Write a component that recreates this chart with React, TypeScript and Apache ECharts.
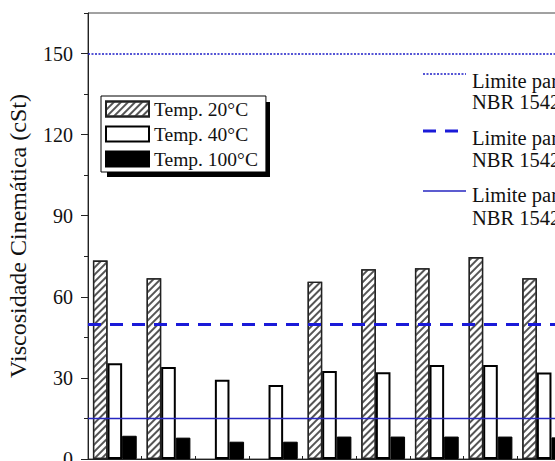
import React, { useEffect, useRef } from "react";
import * as echarts from "echarts";

const categories = ["A1", "A2", "A3", "A4", "A5", "A6", "A7", "A8", "A9"];
const temp20 = [73.4, 66.9, null, null, 65.6, 70.2, 70.6, 74.7, 66.9];
const temp40 = [35.4, 34.0, 29.3, 27.4, 32.6, 32.1, 34.8, 34.8, 32.0];
const temp100 = [8.6, 7.9, 6.4, 6.4, 8.3, 8.3, 8.3, 8.3, 8.0];
const seriesNames = ["Temp. 20°C", "Temp. 40°C", "Temp. 100°C"];
const majorTicks = [0, 30, 60, 90, 120, 150];
const minorTicks = [15, 45, 75, 105, 135, 165];
const limits = [150, 50, 15];
const limitTexts = [
  ["Limite para 20°C", "NBR 15422"],
  ["Limite para 40°C", "NBR 15422"],
  ["Limite para 100°C", "NBR 15422"],
];

const SERIF = '"Liberation Serif", "Times New Roman", serif';
const BLUE_DOT = "#1c1cc8";
const BLUE_DASH = "#1a1ad8";
const BLUE_SOLID = "#2626c0";

export default function App() {
  const ref = useRef<HTMLDivElement>(null);
  useEffect(() => {
    if (!ref.current) return;
    const chart = echarts.init(ref.current, undefined, { renderer: "svg" });
    const limitStyles = [
      { type: [2, 1.5], width: 1.6, color: BLUE_DOT },
      { type: [13, 9], width: 2.8, color: BLUE_DASH },
      { type: "solid", width: 1.3, color: BLUE_SOLID },
    ];
    const legendLineY = [74, 131, 191];
    const text1Y = [81, 138, 195];
    const text2Y = [102, 160, 218];
    const graphics: any[] = [
      {
        type: "rect",
        z: 1,
        shape: { x: 107, y: 102, width: 163, height: 75 },
        style: { fill: "#000" },
      },
    ];
    limits.forEach((_, i) => {
      graphics.push({
        type: "line",
        shape: { x1: 423, y1: legendLineY[i], x2: 466, y2: legendLineY[i] },
        style: {
          stroke: limitStyles[i].color,
          lineWidth: limitStyles[i].width,
          lineDash: Array.isArray(limitStyles[i].type) ? limitStyles[i].type : null,
        },
      });
      graphics.push({
        type: "text",
        x: 472,
        y: text1Y[i],
        style: { text: limitTexts[i][0], fontSize: 20.5, fontFamily: SERIF, fill: "#111", verticalAlign: "middle" },
      });
      graphics.push({
        type: "text",
        x: 472,
        y: text2Y[i],
        style: { text: limitTexts[i][1], fontSize: 20.5, fontFamily: SERIF, fill: "#111", verticalAlign: "middle" },
      });
    });

    chart.setOption({
      animation: false,
      backgroundColor: "#fff",
      grid: {
        left: 88,
        top: 13,
        bottom: 2,
        right: -16,
        show: true,
        borderColor: "#444",
        borderWidth: 1,
        containLabel: false,
        outerBoundsMode: "none",
      },
      legend: {
        orient: "vertical",
        left: 101,
        top: 96,
        padding: [3, 8, 3, 4],
        itemWidth: 43,
        itemHeight: 15,
        itemGap: 5,
        icon: "rect",
        backgroundColor: "#fff",
        borderColor: "#000",
        borderWidth: 1,
        borderRadius: 0,
        z: 10,
        data: seriesNames,
        textStyle: { fontSize: 19.5, fontFamily: SERIF, color: "#111" },
      },
      xAxis: {
        type: "category",
        data: categories,
        axisLine: { lineStyle: { color: "#222", width: 1 } },
        axisTick: { show: true, inside: true, length: 3, lineStyle: { color: "#222" } },
        axisLabel: { show: false },
        splitLine: { show: false },
      },
      yAxis: [
        {
          type: "value",
          min: 0,
          max: 165,
          interval: 15,
          name: "Viscosidade Cinemática (cSt)",
          nameLocation: "middle",
          nameGap: 58,
          nameTextStyle: { fontSize: 24, fontFamily: SERIF, color: "#111" },
          axisLine: { show: true, lineStyle: { color: "#222", width: 1 } },
          axisTick: { show: true, length: 7, customValues: majorTicks, lineStyle: { color: "#222" } },
          axisLabel: {
            customValues: majorTicks,
            margin: 15,
            fontSize: 20,
            fontFamily: SERIF,
            color: "#111",
          },
          splitLine: { show: false },
        },
        {
          type: "value",
          min: 0,
          max: 165,
          interval: 15,
          position: "left",
          axisLine: { show: false },
          axisTick: { show: true, length: 4, customValues: minorTicks, lineStyle: { color: "#222" } },
          axisLabel: { show: false },
          splitLine: { show: false },
        },
      ],
      series: [
        {
          name: seriesNames[0],
          type: "bar",
          data: temp20,
          barWidth: 14.6,
          barGap: "0%",
          itemStyle: {
            color: "#fff",
            borderColor: "#222",
            borderWidth: 1.3,
            decal: {
              symbol: "rect",
              symbolSize: 1,
              dashArrayX: [1, 0],
              dashArrayY: [1.2, 2.8],
              rotation: -Math.PI / 4,
              color: "#555",
            },
          },
          markLine: {
            silent: true,
            symbol: ["none", "none"],
            label: { show: false },
            data: limits.map((v, i) => ({ yAxis: v, lineStyle: limitStyles[i] })),
          },
        },
        {
          name: seriesNames[1],
          type: "bar",
          data: temp40,
          barWidth: 14.6,
          barGap: "0%",
          itemStyle: { color: "#fff", borderColor: "#000", borderWidth: 2 },
        },
        {
          name: seriesNames[2],
          type: "bar",
          data: temp100,
          barWidth: 14.6,
          barGap: "0%",
          itemStyle: { color: "#000", borderColor: "#000", borderWidth: 1 },
        },
      ],
      graphic: graphics,
    });
    return () => chart.dispose();
  }, []);
  return (
    <div
      ref={ref}
      style={{ position: "fixed", left: 0, top: 0, width: 555, height: 461, background: "#fff" }}
    />
  );
}
